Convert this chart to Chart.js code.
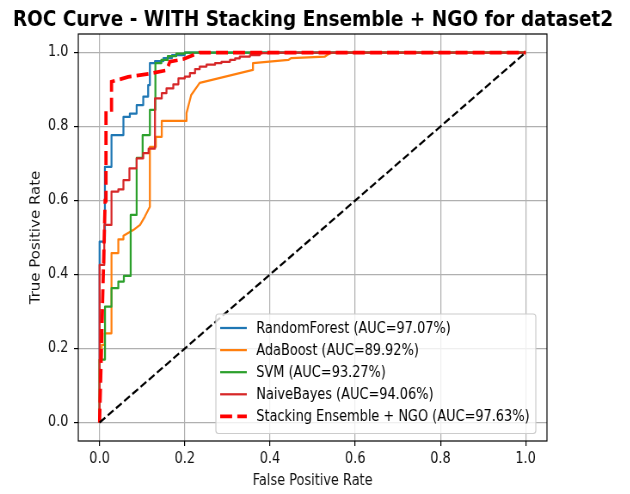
<!DOCTYPE html>
<html>
<head>
<meta charset="utf-8">
<script src="https://cdn.jsdelivr.net/npm/chart.js@4.4.1/dist/chart.umd.min.js"></script>
<style>
  html, body { margin: 0; padding: 0; background: #fff; overflow: hidden; }
  #wrap { width: 630px; height: 494px; overflow: hidden; }
  /* the figure is drawn wide and squeezed to the page width */
  #c { display: block; transform: scaleX(0.86); transform-origin: 0 0; }
</style>
</head>
<body>
<div id="wrap"><canvas id="c" width="733" height="494"></canvas></div>
<script>
// ---- data -------------------------------------------------------------
const TICKS = [0, 0.2, 0.4, 0.6, 0.8, 1.0];
const MODELS = ['RandomForest', 'AdaBoost', 'SVM', 'NaiveBayes', 'Stacking Ensemble + NGO'];
const AUC = [97.07, 89.92, 93.27, 94.06, 97.63];

const RF_FPR = [0, 0, 0.0125, 0.0125, 0.028, 0.028, 0.056, 0.056, 0.071, 0.071, 0.087, 0.087, 0.1025, 0.1025, 0.114, 0.114, 0.118, 0.118, 0.13, 0.13, 0.15, 0.15, 0.17, 0.17, 0.2, 0.2, 1];
const RF_TPR = [0, 0.489, 0.489, 0.691, 0.691, 0.777, 0.777, 0.826, 0.826, 0.835, 0.835, 0.858, 0.858, 0.881, 0.881, 0.912, 0.912, 0.971, 0.971, 0.977, 0.977, 0.985, 0.985, 0.993, 0.993, 1, 1];

const ADA_FPR = [0, 0, 0.005, 0.005, 0.012, 0.012, 0.028, 0.028, 0.044, 0.044, 0.056, 0.056, 0.079, 0.095, 0.106, 0.118, 0.118, 0.132, 0.132, 0.146, 0.146, 0.204, 0.204, 0.215, 0.235, 0.36, 0.36, 0.443, 0.45, 0.529, 0.54, 0.564, 1];
const ADA_TPR = [0, 0.17, 0.17, 0.21, 0.21, 0.241, 0.241, 0.458, 0.458, 0.495, 0.495, 0.505, 0.52, 0.534, 0.556, 0.583, 0.745, 0.745, 0.772, 0.772, 0.815, 0.815, 0.836, 0.885, 0.918, 0.953, 0.971, 0.98, 0.985, 0.989, 0.998, 1, 1];

const SVM_FPR = [0, 0, 0.0127, 0.0127, 0.028, 0.028, 0.044, 0.044, 0.057, 0.057, 0.073, 0.073, 0.087, 0.087, 0.101, 0.101, 0.118, 0.118, 0.131, 0.131, 0.145, 0.145, 0.16, 0.16, 0.18, 0.18, 0.2, 0.2, 1];
const SVM_TPR = [0, 0.17, 0.17, 0.313, 0.313, 0.363, 0.363, 0.381, 0.381, 0.396, 0.396, 0.561, 0.561, 0.715, 0.715, 0.777, 0.777, 0.845, 0.845, 0.971, 0.971, 0.98, 0.98, 0.99, 0.99, 0.997, 0.997, 1, 1];

const NB_FPR = [0, 0, 0.011, 0.011, 0.028, 0.028, 0.044, 0.044, 0.056, 0.056, 0.07, 0.07, 0.087, 0.087, 0.1025, 0.1025, 0.115, 0.115, 0.13, 0.13, 0.146, 0.146, 0.157, 0.157, 0.173, 0.173, 0.185, 0.185, 0.2, 0.2, 0.212, 0.212, 0.224, 0.224, 0.235, 0.235, 0.251, 0.251, 0.271, 0.271, 0.286, 0.286, 0.306, 0.306, 0.318, 0.318, 0.329, 0.329, 0.353, 0.353, 0.376, 0.376, 0.396, 0.396, 1];
const NB_TPR = [0, 0.426, 0.426, 0.534, 0.534, 0.624, 0.624, 0.63, 0.63, 0.655, 0.655, 0.687, 0.687, 0.714, 0.714, 0.728, 0.728, 0.74, 0.74, 0.876, 0.876, 0.89, 0.89, 0.903, 0.903, 0.914, 0.914, 0.93, 0.93, 0.935, 0.935, 0.944, 0.944, 0.955, 0.955, 0.962, 0.962, 0.967, 0.967, 0.971, 0.971, 0.975, 0.975, 0.98, 0.98, 0.984, 0.984, 0.989, 0.989, 0.993, 0.993, 0.998, 0.998, 1, 1];

const ST_FPR = [0, 0.013, 0.015, 0.015, 0.028, 0.028, 0.067, 0.118, 0.157, 0.165, 0.196, 0.235, 1];
const ST_TPR = [0, 0.6, 0.6, 0.845, 0.845, 0.921, 0.934, 0.943, 0.952, 0.975, 0.982, 1, 1];

const CHANCE_X = [0, 1];
const CHANCE_Y = [0, 1];

// ---- styling ----------------------------------------------------------
const FONT = 'DejaVu Sans';
const COLORS = ['#1f77b4', '#ff7f0e', '#2ca02c', '#d62728', '#ff0000'];
const WIDTHS = [2.25, 2.25, 2.25, 2.25, 3.75];
const DASHES = [[], [], [], [], [13.9, 6]];

const pts = (xs, ys) => xs.map((x, i) => ({ x, y: ys[i] }));
const curves = [[RF_FPR, RF_TPR], [ADA_FPR, ADA_TPR], [SVM_FPR, SVM_TPR], [NB_FPR, NB_TPR], [ST_FPR, ST_TPR]];

const datasets = curves.map(([fx, ty], i) => ({
  label: `${MODELS[i]} (AUC=${AUC[i].toFixed(2)}%)`,
  data: pts(fx, ty),
  borderColor: COLORS[i],
  borderWidth: WIDTHS[i],
  borderDash: DASHES[i],
  borderJoinStyle: DASHES[i].length ? 'miter' : 'round',
  showLine: true,
  pointRadius: 0,
  fill: false,
  order: 5 - i
}));
datasets.push({
  label: 'chance',
  data: pts(CHANCE_X, CHANCE_Y),
  borderColor: '#000',
  borderWidth: 2.25,
  borderDash: [8.3, 3.6],
  showLine: true,
  pointRadius: 0,
  fill: false,
  order: 0
});

// plot frame on all four sides
const framePlugin = {
  id: 'frame',
  afterDatasetsDraw(chart) {
    const { ctx, chartArea: a } = chart;
    ctx.save();
    ctx.strokeStyle = '#000';
    ctx.lineWidth = 1.2;
    ctx.strokeRect(a.left, a.top, a.right - a.left, a.bottom - a.top);
    ctx.restore();
  }
};

// figure title
const titlePlugin = {
  id: 'figTitle',
  afterDraw(chart) {
    const { ctx } = chart;
    ctx.save();
    ctx.font = `bold 21.5px "${FONT}"`;
    ctx.fillStyle = '#000';
    ctx.textAlign = 'center';
    ctx.textBaseline = 'alphabetic';
    ctx.fillText('ROC Curve - WITH Stacking Ensemble + NGO for dataset2', 364, 26);
    ctx.restore();
  }
};

// legend box in the lower right of the axes
const legendPlugin = {
  id: 'boxLegend',
  afterDraw(chart) {
    const { ctx } = chart;
    const x0 = 251, y0 = 314, w = 372, h = 119.5, r = 3;
    ctx.save();
    ctx.beginPath();
    ctx.roundRect(x0, y0, w, h, r);
    ctx.fillStyle = 'rgba(255,255,255,0.8)';
    ctx.fill();
    ctx.strokeStyle = '#cccccc';
    ctx.lineWidth = 1.2;
    ctx.stroke();
    ctx.font = `15px "${FONT}"`;
    ctx.textBaseline = 'middle';
    ctx.textAlign = 'left';
    for (let i = 0; i < MODELS.length; i++) {
      const ds = chart.data.datasets[i];
      const yy = 328 + i * 22.1;
      ctx.beginPath();
      ctx.setLineDash(ds.borderDash);
      ctx.lineCap = 'butt';
      ctx.strokeStyle = ds.borderColor;
      ctx.lineWidth = ds.borderWidth;
      ctx.moveTo(256, yy);
      ctx.lineTo(287, yy);
      ctx.stroke();
      ctx.setLineDash([]);
      ctx.fillStyle = '#000';
      ctx.fillText(ds.label, 298, yy + 1);
    }
    ctx.restore();
  }
};

const tickFont = { family: FONT, size: 15 };
const fixTicks = scale => { scale.ticks = TICKS.map(v => ({ value: v })); };

new Chart(document.getElementById('c'), {
  type: 'scatter',
  data: { datasets },
  options: {
    responsive: false,
    animation: false,
    devicePixelRatio: 1,
    layout: { padding: { top: 34, right: 97, left: 0, bottom: 0 } },
    plugins: { legend: { display: false }, tooltip: { enabled: false }, title: { display: false } },
    elements: { line: { tension: 0 } },
    scales: {
      x: {
        type: 'linear', min: -0.05, max: 1.05,
        afterBuildTicks: fixTicks,
        afterFit: s => { s.height = 53; },
        ticks: { callback: v => v.toFixed(1), color: '#111', font: tickFont, padding: 4, maxRotation: 0, autoSkip: false },
        grid: { color: '#b0b0b0', lineWidth: 1.2, drawTicks: true, tickLength: 5, tickColor: '#000', tickWidth: 1.2 },
        border: { display: false },
        title: { display: true, text: 'False Positive Rate', color: '#111', font: tickFont, padding: { top: 0, bottom: 4 } }
      },
      y: {
        type: 'linear', min: -0.05, max: 1.05,
        afterBuildTicks: fixTicks,
        afterFit: s => { s.width = 91; },
        ticks: { callback: v => v.toFixed(1), color: '#111', font: tickFont, padding: 6.5, autoSkip: false },
        grid: { color: '#b0b0b0', lineWidth: 1.2, drawTicks: true, tickLength: 5, tickColor: '#000', tickWidth: 1.2 },
        border: { display: false },
        title: { display: true, text: 'True Positive Rate', color: '#111', font: tickFont, padding: { top: 33, bottom: 0 } }
      }
    }
  },
  plugins: [framePlugin, titlePlugin, legendPlugin]
});
</script>
</body>
</html>
